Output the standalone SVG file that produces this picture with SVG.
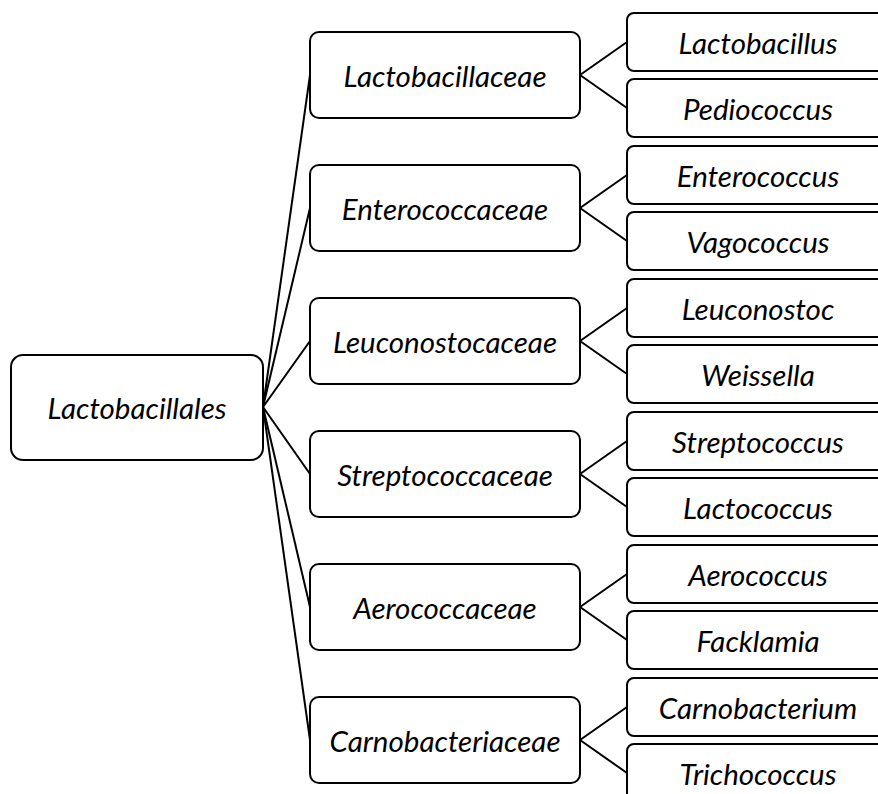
<svg xmlns="http://www.w3.org/2000/svg" width="878" height="794" viewBox="0 0 878 794">
<style>
.box{fill:#fff;stroke:#000;stroke-width:2}
.lbl{font-family:"Lato","Open Sans","Liberation Sans",sans-serif;font-style:italic;font-size:29.5px;fill:#000;text-anchor:middle;dominant-baseline:central}
.conn line{stroke:#000;stroke-width:2}
</style>
<rect width="878" height="794" fill="#fff"/>
<g id="connectors" class="conn">
<line x1="263" y1="407" x2="310" y2="75"/>
<line x1="263" y1="407" x2="310" y2="208"/>
<line x1="263" y1="407" x2="310" y2="341"/>
<line x1="263" y1="407" x2="310" y2="474"/>
<line x1="263" y1="407" x2="310" y2="607"/>
<line x1="263" y1="407" x2="310" y2="740"/>
<line x1="580" y1="75" x2="627" y2="42"/><line x1="580" y1="75" x2="627" y2="108"/>
<line x1="580" y1="208" x2="627" y2="175"/><line x1="580" y1="208" x2="627" y2="241"/>
<line x1="580" y1="341" x2="627" y2="308"/><line x1="580" y1="341" x2="627" y2="374"/>
<line x1="580" y1="474" x2="627" y2="441"/><line x1="580" y1="474" x2="627" y2="507"/>
<line x1="580" y1="607" x2="627" y2="574"/><line x1="580" y1="607" x2="627" y2="640"/>
<line x1="580" y1="740" x2="627" y2="707"/><line x1="580" y1="740" x2="627" y2="773"/>
</g>
<g id="root"><rect class="box" x="11" y="355" width="252" height="105" rx="12"/><text class="lbl" x="137" y="407">Lactobacillales</text></g>
<g id="f1"><rect class="box" x="310" y="32" width="270" height="86" rx="9"/><text class="lbl" x="445" y="75">Lactobacillaceae</text></g>
<g id="f2"><rect class="box" x="310" y="165" width="270" height="86" rx="9"/><text class="lbl" x="445" y="208">Enterococcaceae</text></g>
<g id="f3"><rect class="box" x="310" y="298" width="270" height="86" rx="9"/><text class="lbl" x="445" y="341">Leuconostocaceae</text></g>
<g id="f4"><rect class="box" x="310" y="431" width="270" height="86" rx="9"/><text class="lbl" x="445" y="474">Streptococcaceae</text></g>
<g id="f5"><rect class="box" x="310" y="564" width="270" height="86" rx="9"/><text class="lbl" x="445" y="607">Aerococcaceae</text></g>
<g id="f6"><rect class="box" x="310" y="697" width="270" height="86" rx="9"/><text class="lbl" x="445" y="740">Carnobacteriaceae</text></g>
<g id="g1"><rect class="box" x="627" y="13" width="270" height="58" rx="7"/><text class="lbl" x="758" y="42">Lactobacillus</text></g>
<g id="g2"><rect class="box" x="627" y="79" width="270" height="58" rx="7"/><text class="lbl" x="758" y="108">Pediococcus</text></g>
<g id="g3"><rect class="box" x="627" y="146" width="270" height="58" rx="7"/><text class="lbl" x="758" y="175">Enterococcus</text></g>
<g id="g4"><rect class="box" x="627" y="212" width="270" height="58" rx="7"/><text class="lbl" x="758" y="241">Vagococcus</text></g>
<g id="g5"><rect class="box" x="627" y="279" width="270" height="58" rx="7"/><text class="lbl" x="758" y="308">Leuconostoc</text></g>
<g id="g6"><rect class="box" x="627" y="345" width="270" height="58" rx="7"/><text class="lbl" x="758" y="374">Weissella</text></g>
<g id="g7"><rect class="box" x="627" y="412" width="270" height="58" rx="7"/><text class="lbl" x="758" y="441">Streptococcus</text></g>
<g id="g8"><rect class="box" x="627" y="478" width="270" height="58" rx="7"/><text class="lbl" x="758" y="507">Lactococcus</text></g>
<g id="g9"><rect class="box" x="627" y="545" width="270" height="58" rx="7"/><text class="lbl" x="758" y="574">Aerococcus</text></g>
<g id="g10"><rect class="box" x="627" y="611" width="270" height="58" rx="7"/><text class="lbl" x="758" y="640">Facklamia</text></g>
<g id="g11"><rect class="box" x="627" y="678" width="270" height="58" rx="7"/><text class="lbl" x="758" y="707">Carnobacterium</text></g>
<g id="g12"><rect class="box" x="627" y="744" width="270" height="58" rx="7"/><text class="lbl" x="758" y="773">Trichococcus</text></g>
</svg>
